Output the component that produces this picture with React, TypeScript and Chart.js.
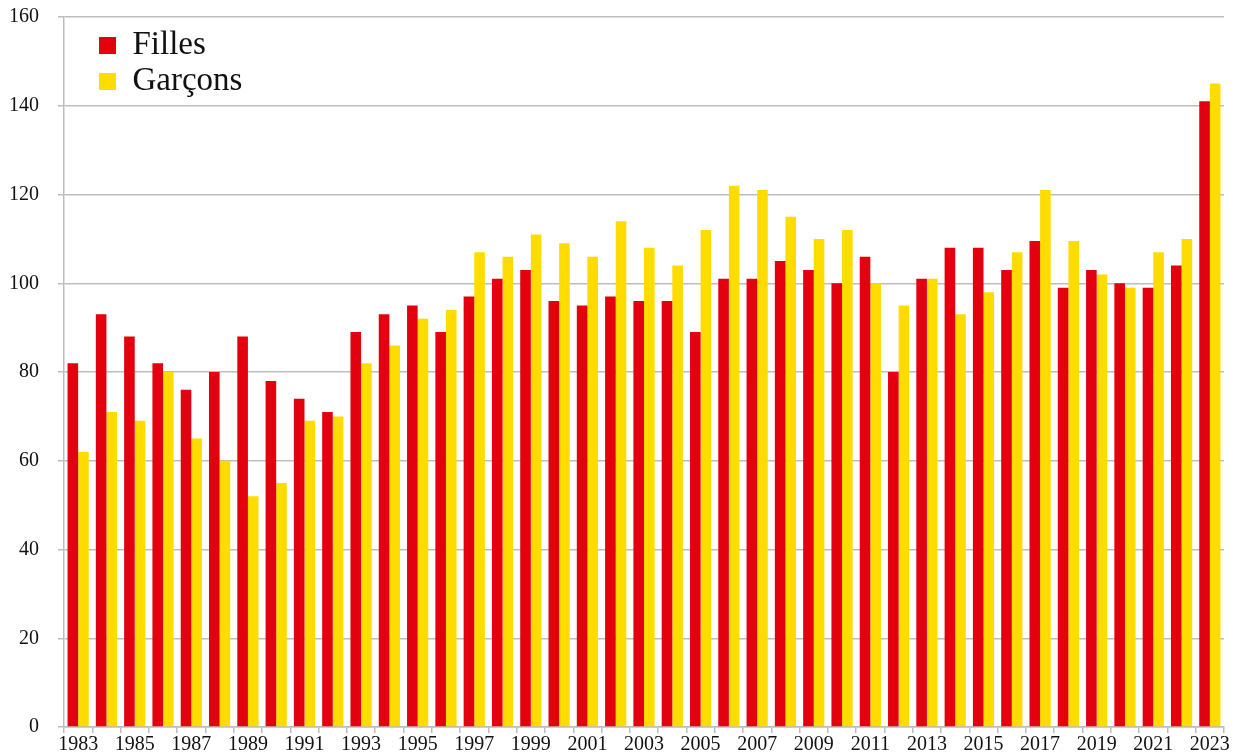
import React, { useEffect, useRef } from "react";
import { Chart, registerables } from "chart.js";

Chart.register(...registerables);

const years = [
  "1983", "1984", "1985", "1986", "1987", "1988", "1989", "1990", "1991", "1992",
  "1993", "1994", "1995", "1996", "1997", "1998", "1999", "2000", "2001", "2002",
  "2003", "2004", "2005", "2006", "2007", "2008", "2009", "2010", "2011", "2012",
  "2013", "2014", "2015", "2016", "2017", "2018", "2019", "2020", "2021", "2022",
  "2023",
];

const filles = [
  82, 93, 88, 82, 76, 80, 88, 78, 74, 71,
  89, 93, 95, 89, 97, 101, 103, 96, 95, 97,
  96, 96, 89, 101, 101, 105, 103, 100, 106, 80,
  101, 108, 108, 103, 109.5, 99, 103, 100, 99, 104,
  141,
];

const garcons = [
  62, 71, 69, 80, 65, 60, 52, 55, 69, 70,
  82, 86, 92, 94, 107, 106, 111, 109, 106, 114,
  108, 104, 112, 122, 121, 115, 110, 112, 100, 95,
  101, 93, 98, 107, 121, 109.5, 102, 99, 107, 110,
  145,
];

const yTicks = [0, 20, 40, 60, 80, 100, 120, 140, 160];

const FONT = "'Liberation Serif', 'Times New Roman', serif";
const GRID = "#bdbdbd";

const legendPlace = {
  id: "legendPlace",
  afterLayout(chart: any) {
    const l = chart.legend;
    const a = chart.chartArea;
    if (l && a) {
      const w = l.width;
      const h = l.height;
      l.left = a.left + 32;
      l.top = a.top + 9;
      l.right = l.left + w;
      l.bottom = l.top + h;
    }
  },
};

export default function App() {
  const ref = useRef<HTMLCanvasElement | null>(null);

  useEffect(() => {
    if (!ref.current) return;
    const chart = new Chart(ref.current, {
      type: "bar",
      data: {
        labels: years,
        datasets: [
          {
            label: "Filles",
            data: filles,
            backgroundColor: "#E3000F",
            categoryPercentage: 0.75,
            barPercentage: 1.0,
          },
          {
            label: "Garçons",
            data: garcons,
            backgroundColor: "#FFDC00",
            categoryPercentage: 0.75,
            barPercentage: 1.0,
          },
        ],
      },
      options: {
        animation: false,
        responsive: false,
        maintainAspectRatio: false,
        layout: { padding: { left: -10, top: 17, right: 20, bottom: -2 } },
        plugins: {
          legend: {
            position: "chartArea" as any,
            align: "start",
            labels: {
              boxWidth: 17,
              boxHeight: 17,
              padding: 3,
              color: "#111",
              font: { family: FONT, size: 33 },
            },
          },
          tooltip: { enabled: false },
        },
        scales: {
          x: {
            grid: {
              display: true,
              drawOnChartArea: false,
              drawTicks: true,
              tickLength: 6,
              color: GRID,
              lineWidth: 1.5,
              offset: true,
            },
            border: { display: true, color: GRID, width: 1.5 },
            ticks: {
              autoSkip: false,
              maxRotation: 0,
              minRotation: 0,
              padding: 0,
              color: "#111",
              font: { family: FONT, size: 20 },
              callback: (_v: any, i: number) => (i % 2 === 0 ? years[i] : ""),
            },
          },
          y: {
            min: yTicks[0],
            max: yTicks[yTicks.length - 1],
            grid: {
              color: GRID,
              lineWidth: 1.5,
              tickLength: 6,
            },
            border: { display: true, color: GRID, width: 1.5 },
            afterBuildTicks: (axis: any) => {
              axis.ticks = yTicks.map((v) => ({ value: v }));
            },
            afterFit: (axis: any) => {
              axis.paddingTop = 0;
              axis.paddingBottom = 0;
            },
            ticks: {
              padding: 19,
              color: "#111",
              font: { family: FONT, size: 20 },
            },
          },
        },
      },
      plugins: [legendPlace],
    });
    return () => chart.destroy();
  }, []);

  return (
    <div style={{ position: "absolute", left: 0, top: 0, width: 1244, height: 755 }}>
      <canvas ref={ref} width={1244} height={755} style={{ width: 1244, height: 755 }} />
    </div>
  );
}
